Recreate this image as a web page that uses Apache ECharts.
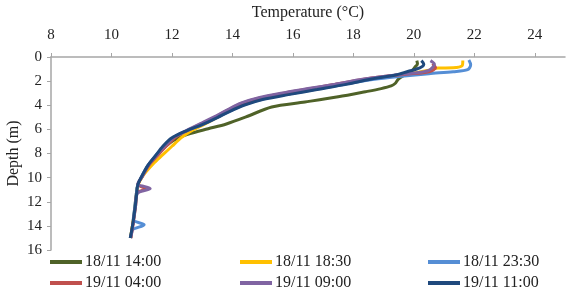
<!DOCTYPE html>
<html>
<head>
<meta charset="utf-8">
<script src="https://cdn.jsdelivr.net/npm/echarts@6/dist/echarts.min.js"></script>
<style>
  html, body { margin: 0; padding: 0; background: #fff; }
  #myChart { width: 587px; height: 298px; }
</style>
</head>
<body>
<div id="myChart"></div>
<script>
// series names (legend)
var seriesNames = ['18/11 14:00', '18/11 18:30', '18/11 23:30', '19/11 04:00', '19/11 09:00', '19/11 11:00'];
var colors = ['#4f6228', '#ffc000', '#558ed5', '#c0504d', '#8064a2', '#1f497d'];

// profiles: [temperature (°C), depth (m)]
var p1400 = [[20.1,0.3],[20.12,0.58],[20.04,0.83],[19.9,1.24],[19.64,1.57],[19.48,1.85],[19.38,2.2],[19.25,2.4],[18.92,2.62],[18.4,2.88],[17.5,3.3],[16.4,3.73],[15.3,4.14],[14.45,4.97],[13.8,5.55],[13.2,5.95],[12.6,6.35],[12.1,6.85],[11.75,7.5],[11.45,8.3],[11.2,9.05],[11.0,9.95],[10.87,10.6],[10.82,11.4],[10.77,12.5],[10.72,13.6],[10.66,14.5],[10.63,15.0]];
var p1830 = [[21.62,0.3],[21.6,0.72],[21.3,0.9],[20.8,0.92],[20.5,1.1],[19.9,1.38],[19.2,1.6],[18.5,1.85],[17.7,2.25],[16.7,2.68],[15.8,3.08],[14.9,3.5],[14.3,4.0],[13.85,4.5],[13.5,5.0],[13.05,5.6],[12.65,6.1],[12.3,6.7],[12.0,7.4],[11.7,8.1],[11.4,8.8],[11.15,9.5],[11.0,10.0],[10.88,10.6],[10.83,11.4],[10.78,12.5],[10.72,13.6],[10.66,14.5],[10.64,15.0]];
var p2330 = [[21.82,0.25],[21.88,0.65],[21.78,1.05],[21.3,1.22],[20.5,1.38],[19.6,1.6],[18.7,1.85],[17.8,2.22],[16.8,2.66],[15.9,3.05],[15.0,3.48],[14.4,3.95],[13.9,4.5],[13.5,5.0],[13.0,5.6],[12.5,6.1],[12.05,6.7],[11.75,7.4],[11.45,8.2],[11.2,9.0],[11.0,9.9],[10.87,10.6],[10.82,11.4],[10.77,12.5],[10.72,13.5],[11.08,13.9],[10.7,14.3],[10.66,14.6],[10.62,15.0]];
var p0400 = [[20.62,0.55],[20.72,0.9],[20.5,1.22],[19.8,1.42],[19.0,1.62],[18.2,1.9],[17.3,2.3],[16.4,2.7],[15.6,3.05],[14.9,3.4],[14.3,3.85],[13.85,4.4],[13.45,4.95],[13.0,5.5],[12.55,6.05],[12.15,6.6],[11.85,7.3],[11.55,8.1],[11.25,8.95],[11.02,9.9],[10.88,10.55],[11.12,10.95],[10.85,11.25],[10.8,12.3],[10.74,13.4],[10.68,14.4],[10.64,15.0]];
var p0900 = [[20.55,0.3],[20.68,0.6],[20.5,1.1],[20.0,1.33],[19.2,1.55],[18.3,1.85],[17.4,2.25],[16.5,2.62],[15.6,3.0],[14.9,3.35],[14.3,3.8],[13.85,4.35],[13.45,4.9],[13.0,5.45],[12.55,6.0],[12.1,6.6],[11.8,7.3],[11.5,8.1],[11.22,8.95],[11.02,9.9],[10.87,10.5],[11.28,10.9],[10.86,11.3],[10.8,12.3],[10.74,13.4],[10.68,14.4],[10.64,15.0]];
var p1100 = [[20.25,0.3],[20.33,0.6],[20.2,0.9],[19.8,1.2],[19.4,1.5],[18.6,1.82],[17.8,2.25],[16.8,2.7],[15.9,3.1],[15.0,3.52],[14.4,3.98],[13.9,4.52],[13.5,5.02],[13.0,5.6],[12.5,6.1],[12.0,6.7],[11.7,7.4],[11.45,8.2],[11.2,9.0],[11.0,9.9],[10.87,10.6],[10.83,11.4],[10.78,12.5],[10.72,13.6],[10.66,14.5],[10.62,15.0]];
var profiles = [p1400, p1830, p2330, p0400, p0900, p1100];

// x ticks 8..24, depth ticks 0..16
var tempMin = 8, tempMax = 25, tempStep = 2;
var depthMin = 0, depthMax = 16, depthStep = 2;

var font = 'Liberation Serif';
var myChart = echarts.init(document.getElementById('myChart'));

var series = [];
for (var i = 0; i < seriesNames.length; i++) {
    series.push({
        name: seriesNames[i],
        type: 'line',
        data: profiles[i],
        smooth: 0.3,
        showSymbol: false,
        silent: true,
        lineStyle: { color: colors[i], width: 3 },
        itemStyle: { color: colors[i] }
    });
}

function legendCol(names, left) {
    return {
        data: names,
        orient: 'vertical',
        left: left,
        top: 254,
        padding: 0,
        itemGap: 5,
        itemWidth: 32,
        itemHeight: 4,
        icon: 'rect',
        textStyle: { fontFamily: font, fontSize: 16, color: '#222', padding: [0, 0, 0, -2] }
    };
}

myChart.setOption({
    animation: false,
    grid: { left: 51, right: 22, top: 57, bottom: 48, containLabel: false, outerBoundsMode: 'none' },
    legend: [
        legendCol([seriesNames[0], seriesNames[3]], 50),
        legendCol([seriesNames[1], seriesNames[4]], 240),
        legendCol([seriesNames[2], seriesNames[5]], 428)
    ],
    xAxis: {
        type: 'value',
        position: 'top',
        min: tempMin,
        max: tempMax,
        interval: tempStep,
        name: 'Temperature (°C)',
        nameLocation: 'middle',
        nameGap: 36,
        nameTextStyle: { fontFamily: font, fontSize: 16, color: '#222' },
        axisLine: { show: true, lineStyle: { color: '#a6a6a6', width: 1.5 } },
        axisTick: { show: true, length: 4, lineStyle: { color: '#a6a6a6' } },
        axisLabel: { fontFamily: font, fontSize: 15, color: '#222', margin: 14, showMaxLabel: false },
        splitLine: { show: false }
    },
    yAxis: {
        type: 'value',
        inverse: true,
        min: depthMin,
        max: depthMax,
        interval: depthStep,
        name: 'Depth (m)',
        nameLocation: 'middle',
        nameRotate: 90,
        nameGap: 29,
        nameMoveOverlap: false,
        nameTextStyle: { fontFamily: font, fontSize: 16, color: '#222' },
        axisLine: { show: true, lineStyle: { color: '#a6a6a6', width: 1.5 } },
        axisTick: { show: true, length: 4, lineStyle: { color: '#a6a6a6' } },
        axisLabel: { fontFamily: font, fontSize: 15, color: '#222', margin: 9 },
        splitLine: { show: false }
    },
    series: series
});
</script>
</body>
</html>
